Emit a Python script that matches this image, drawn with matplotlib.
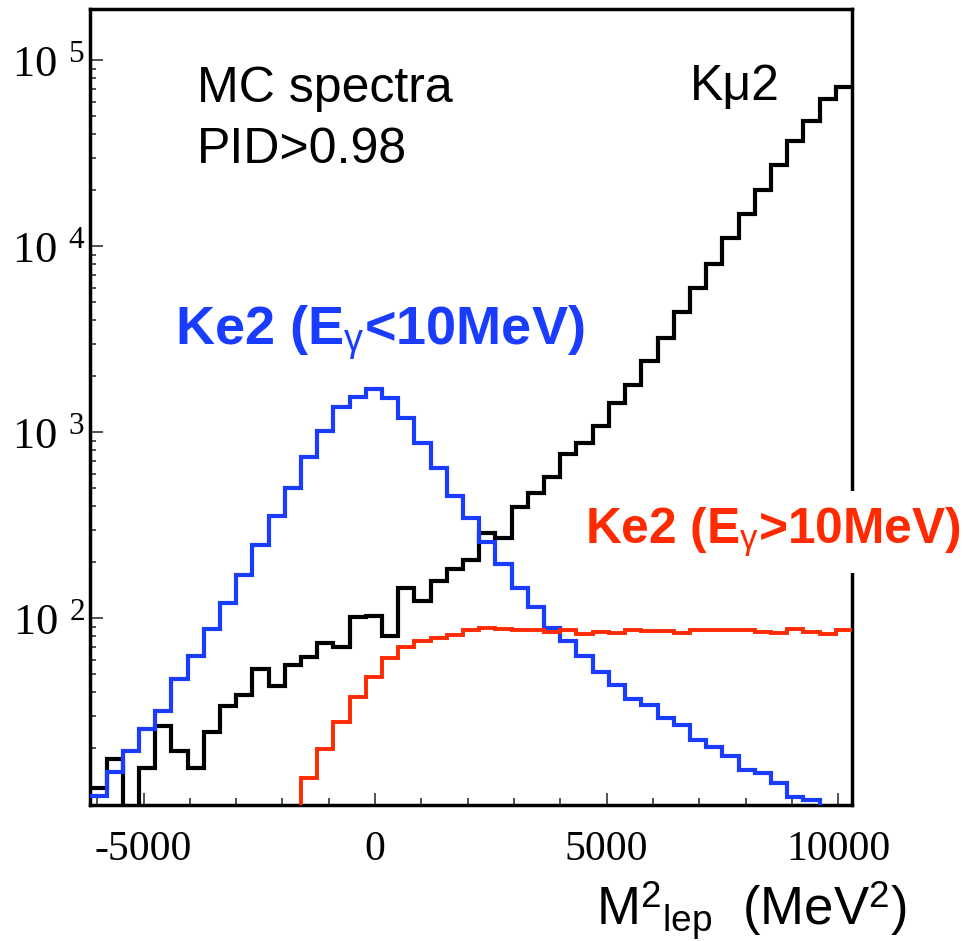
import numpy as np
import matplotlib
matplotlib.use("Agg")
import matplotlib.pyplot as plt
from matplotlib.ticker import FixedLocator, MultipleLocator, LogLocator, NullFormatter

plt.rcParams['font.family'] = ['Liberation Sans', 'DejaVu Sans']
plt.rcParams['mathtext.fontset'] = 'custom'
plt.rcParams['mathtext.rm'] = 'Liberation Serif'
plt.rcParams['mathtext.sf'] = 'Liberation Sans'
plt.rcParams['mathtext.it'] = 'Liberation Serif:italic'
plt.rcParams['mathtext.bf'] = 'Liberation Sans:bold'

# ---- data ----
bin_edges = np.arange(-6150, 10301, 350)   # 47 bins, MeV^2

kmu2 = [12.2, 17.5, 0, 15.7, 26.4, 19.4, 15.6, 24.5, 33.7, 38.7,
        53.2, 43.3, 56, 61.7, 73.9, 69.8, 101, 103, 80.3, 145,
        124, 159, 183, 206, 288, 269, 395, 470, 573, 764,
        879, 1081, 1440, 1794, 2426, 3200, 4447, 5940, 8034, 11050,
        14920, 20100, 27370, 37000, 47300, 61700, 72100]

ke2_low = [11.1, 14.9, 19.4, 25.4, 31.8, 47, 63, 88, 121, 171,
           248, 355, 504, 734, 1016, 1360, 1553, 1702, 1524, 1190,
           873, 640, 455, 345, 258, 195, 146, 115, 89, 75,
           62.7, 51.6, 43.8, 36.6, 34.2, 29, 26.7, 22.2, 20.4, 18.2,
           15.3, 14.8, 13, 11, 10.5, 0, 0]

ke2_high = [0, 0, 0, 0, 0, 0, 0, 0, 0, 0,
            0, 0, 0, 13.8, 19.8, 27.8, 37.9, 48.2, 61, 70.4,
            75.8, 78.5, 80.8, 86.5, 88.4, 87.5, 86.9, 86.2, 84.7, 86.4,
            82.6, 84, 83.4, 86.2, 85.5, 85.5, 83.4, 86.9, 86.2, 86.2,
            86.9, 84.7, 83.4, 87.5, 84, 82, 86.2]

x_major = [-5000, 0, 5000, 10000]
x_labels = ['-5000', '0', '5000', '10000']
y_major = [1e2, 1e3, 1e4, 1e5]
y_labels = [r'$\mathrm{10}^{\ \,2}$', r'$\mathrm{10}^{\ \,3}$', r'$\mathrm{10}^{\ \,4}$', r'$\mathrm{10}^{\ \,5}$']

BLUE = '#1a3cff'
RED = '#ff2a00'

W, H = 963, 941
fig = plt.figure(figsize=(W/100, H/100), dpi=100)
ax = fig.add_axes([90.3/W, 1-805/H, (852-90.3)/W, (805-9.3)/H])

def floor(v):
    v = np.asarray(v, dtype=float)
    return np.where(v > 0, v, 1e-3)

ax.stairs(floor(kmu2), bin_edges, color='black', lw=3.0, baseline=None, zorder=3)
ax.stairs(floor(ke2_low), bin_edges, color=BLUE, lw=3.0, baseline=None, zorder=4)
ax.stairs(floor(ke2_high), bin_edges, color=RED, lw=2.8, baseline=None, zorder=5)

ax.set_yscale('log')
ax.set_xlim(-6150, 10300)
ax.set_ylim(10**0.996, 10**5.274)

ax.xaxis.set_major_locator(FixedLocator(x_major))
ax.set_xticklabels(x_labels, fontfamily='Liberation Serif', fontsize=30)
ax.xaxis.set_minor_locator(MultipleLocator(1000))
ax.yaxis.set_major_locator(FixedLocator(y_major))
ax.set_yticklabels(y_labels, fontsize=32)
ax.yaxis.set_minor_locator(LogLocator(base=10, subs=np.arange(2, 10)))
ax.yaxis.set_minor_formatter(NullFormatter())

ax.tick_params(axis='both', which='both', direction='in', top=False, right=False, color='#333333')
ax.tick_params(axis='x', which='major', length=9, width=1.2, pad=18)
ax.tick_params(axis='x', which='minor', length=5, width=1.2)
ax.tick_params(axis='y', which='major', length=9, width=1.2, pad=4)
ax.tick_params(axis='y', which='minor', length=4.5, width=1.2)
for s in ax.spines.values():
    s.set_linewidth(2.5)

fig.text(907/W, 1-925/H, r'M$^{\mathsf{2}}{}_{\mathsf{lep}}$  (MeV$^{\mathsf{2}}$)', ha='right', va='baseline', fontsize=38)

fig.text(196.7/W, 1-101.7/H, 'MC spectra', ha='left', va='baseline', fontsize=36)
fig.text(196.7/W, 1-163/H, 'PID>0.98', ha='left', va='baseline', fontsize=36)
fig.text(690/W, 1-100/H, 'K\u03bc2', ha='left', va='baseline', fontsize=36)

fig.text(175/W, 1-345/H, r'Ke2 (E$_{\mathsf{\gamma}}$<10MeV)', ha='left', va='baseline',
         fontsize=39, fontweight='bold', color=BLUE)
fig.text(585/W, 1-543/H, r'Ke2 (E$_{\mathsf{\gamma}}$>10MeV)', ha='left', va='baseline',
         fontsize=35.7, fontweight='bold', color=RED, zorder=10,
         bbox=dict(facecolor='white', edgecolor='none', pad=10))

fig.savefig('out.png', dpi=100)
